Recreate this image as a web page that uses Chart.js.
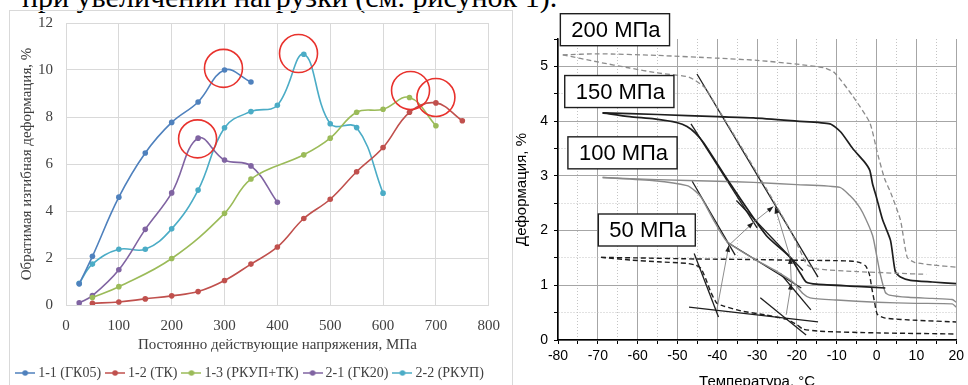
<!DOCTYPE html>
<html>
<head>
<meta charset="utf-8">
<script src="https://cdn.jsdelivr.net/npm/chart.js@4.4.0/dist/chart.umd.min.js"></script>
<style>
  html, body { margin: 0; padding: 0; background: #fff; width: 968px; height: 385px; overflow: hidden; }
  #caption { position: absolute; left: 22px; top: -18px; font-family: "Liberation Serif", serif; font-size: 30px; line-height: 30px; white-space: nowrap; color: #000; }
  #box1 { position: absolute; left: 9px; top: 10px; width: 504px; height: 400px; border: 1px solid #d9d9d9; box-sizing: border-box; }
  #c1 { position: absolute; left: 10px; top: 11px; }
  #c2 { position: absolute; left: 513px; top: 0; }
</style>
</head>
<body>
<div id="caption">при увеличении нагрузки (см. рисунок 1).</div>
<div id="box1"></div>
<canvas id="c1" width="502" height="390"></canvas>
<canvas id="c2" width="455" height="400"></canvas>
<script>
// left chart: recoverable bending strain vs constant stress
const gk05X = [25, 50, 100, 150, 200, 250, 300, 350];
const gk05Y = [0.9, 2.07, 4.59, 6.47, 7.77, 8.64, 10.0, 9.49];
const tkX = [50, 100, 150, 200, 250, 300, 350, 400, 450, 500, 550, 600, 650, 700, 750];
const tkY = [0.07, 0.13, 0.26, 0.39, 0.57, 1.04, 1.74, 2.47, 3.68, 4.5, 5.67, 6.7, 8.2, 8.6, 7.84];
const rkupTkX = [50, 100, 200, 300, 350, 450, 500, 550, 600, 650, 700];
const rkupTkY = [0.32, 0.78, 1.98, 3.9, 5.36, 6.39, 7.1, 8.2, 8.33, 8.83, 7.63];
const gk20X = [25, 50, 100, 150, 200, 250, 300, 350, 400];
const gk20Y = [0.09, 0.4, 1.5, 3.22, 4.77, 7.1, 6.17, 5.92, 4.37];
const rkupX = [25, 50, 100, 150, 200, 250, 300, 350, 400, 450, 500, 550, 600];
const rkupY = [0.92, 1.74, 2.37, 2.37, 3.24, 4.89, 7.54, 8.23, 8.5, 10.67, 7.71, 7.55, 4.76];
const seriesNames = ['1-1 (ГК05)', '1-2 (ТК)', '1-3 (РКУП+ТК)', '2-1 (ГК20)', '2-2 (РКУП)'];
const seriesColors = ['#4f81bd', '#c0504d', '#9bbb59', '#8064a2', '#4bacc6'];
const circleX = [298, 249, 440, 652, 700];
const circleY = [10.07, 7.07, 10.7, 9.13, 8.83];

// right chart: strain vs temperature under load
const load200Heating = [[-78.8, 5.21], [-70, 5.23], [-55, 5.2], [-40, 5.15], [-30, 5.11], [-20, 5.04], [-13, 4.97], [-10.5, 4.88], [-6, 4.46], [-1.7, 3.97], [0.2, 3.42], [2, 2.95], [3.5, 2.7], [6, 2.19], [7.7, 1.51], [9.5, 1.42], [14, 1.37], [20, 1.33]];
const load200Cooling = [[-78.8, 5.21], [-70, 5.08], [-62, 4.97], [-55, 4.88], [-47, 4.8], [-43, 4.6], [-40, 4.25], [-30, 3.05], [-22, 2.05], [-19, 1.6], [-17.5, 1.38], [-15, 1.3], [-5, 1.25], [5, 1.22], [12.5, 1.2]];
const load150Heating = [[-68.8, 4.15], [-55, 4.12], [-40, 4.08], [-30.9, 4.06], [-20, 4.0], [-11.7, 3.95], [-9, 3.8], [-6, 3.5], [-3, 3.25], [-1.7, 3.1], [-1, 2.85], [0, 2.6], [1.5, 2.2], [3.5, 1.82], [4.7, 1.25], [6, 1.15], [8.5, 1.09], [14, 1.06], [20, 1.03]];
const load150Cooling = [[-68.8, 4.15], [-62, 4.08], [-55.8, 4.04], [-50, 3.97], [-47.6, 3.9], [-45.5, 3.78], [-43.4, 3.6], [-36.7, 2.85], [-27.7, 1.91], [-21.7, 1.51], [-19, 1.2], [-17.7, 1.06], [-15, 1.02], [-5, 0.98], [2.2, 0.95]];
const load100Heating = [[-68.8, 2.97], [-55, 2.93], [-40, 2.9], [-30.9, 2.88], [-20, 2.84], [-9.2, 2.79], [-6.7, 2.64], [-5, 2.5], [-3.5, 2.33], [-1, 1.91], [0, 1.55], [1, 1.18], [2.2, 0.87], [3.2, 0.82], [8, 0.78], [14, 0.76], [19, 0.74], [20, 0.69]];
const load100Cooling = [[-68.8, 2.97], [-55.8, 2.91], [-47.6, 2.82], [-45.5, 2.72], [-44, 2.6], [-41, 2.2], [-37.6, 1.8], [-30, 1.45], [-25, 1.25], [-21, 1.06], [-18.5, 0.85], [-16.7, 0.77], [-10, 0.73], [0, 0.69], [10, 0.67], [19, 0.66], [20, 0.6]];
const load50Heating = [[-69.2, 1.51], [-60, 1.5], [-45, 1.48], [-30, 1.47], [-22.7, 1.46], [-10, 1.45], [-6, 1.44], [-4, 1.41], [-2.7, 1.35], [-1.8, 1.2], [-1.2, 0.95], [-0.5, 0.69], [0.2, 0.47], [2.2, 0.4], [10, 0.36], [20, 0.33]];
const load50Cooling = [[-69.2, 1.51], [-61.5, 1.46], [-55, 1.43], [-47.6, 1.4], [-45.5, 1.37], [-44.1, 1.31], [-42.8, 1.1], [-41.6, 0.87], [-40.1, 0.67], [-38.4, 0.62], [-34, 0.53], [-28, 0.46], [-22.7, 0.38], [-20, 0.28], [-18.5, 0.2], [-14.2, 0.16], [0, 0.13], [20, 0.11]];
const tangents = [
  [[-45.1, 4.86], [-14.7, 1.15]],
  [[-46.6, 3.95], [-30, 2.05]],
  [[-35.2, 2.55], [-18.5, 1.27]],
  [[-46.3, 2.9], [-35.5, 1.55]],
  [[-37.6, 1.79], [-18.9, 0.95]],
  [[-24.2, 1.22], [-16.5, 0.55]],
  [[-45.8, 1.58], [-39.7, 0.42]],
  [[-47.1, 0.6], [-14.7, 0.33]],
  [[-29.2, 0.77], [-17.7, 0.09]],
];
const arrowFrom = [[-40.1, 0.55], [-37.1, 1.73], [-30.9, 2.15], [-22.7, 0.46], [-21.4, 1.04], [-21.7, 1.51]];
const arrowTo = [[-37.1, 1.73], [-30.9, 2.15], [-25.9, 2.44], [-21.4, 1.04], [-21.7, 1.51], [-25.5, 2.43]];
const loadLabels = ['200 МПа', '150 МПа', '100 МПа', '50 МПа'];
const loadLabelT = [-65.7, -64.6, -63.8, -57.7];
const loadLabelD = [5.67, 4.54, 3.42, 2.01];

const serif = '"Liberation Serif", "Times New Roman", serif';
const sans = '"Liberation Sans", Arial, sans-serif';

function legendMark(color) {
  const c = document.createElement('canvas');
  c.width = 20;
  c.height = 8;
  const g = c.getContext('2d');
  g.strokeStyle = color;
  g.lineWidth = 1.5;
  g.beginPath();
  g.moveTo(0, 4);
  g.lineTo(20, 4);
  g.stroke();
  g.fillStyle = color;
  g.beginPath();
  g.arc(10, 4, 2.8, 0, Math.PI * 2);
  g.fill();
  return c;
}
const marks = seriesColors.map(legendMark);

const zip = (xs, ys) => xs.map((x, i) => ({ x: x, y: ys[i] }));
const leftSeries = [[gk05X, gk05Y], [tkX, tkY], [rkupTkX, rkupTkY], [gk20X, gk20Y], [rkupX, rkupY]];

const leftDatasets = leftSeries.map((s, i) => ({
  label: seriesNames[i],
  data: zip(s[0], s[1]),
  showLine: true,
  borderColor: seriesColors[i],
  backgroundColor: seriesColors[i],
  borderWidth: 1.6,
  pointRadius: 2.8,
  pointBorderWidth: 0,
  tension: 0.4,
}));
leftDatasets.push({
  label: 'circles',
  data: zip(circleX, circleY),
  showLine: false,
  pointRadius: 19,
  pointBackgroundColor: 'rgba(0,0,0,0)',
  pointBorderColor: '#e8322d',
  pointBorderWidth: 1.6,
  order: -1,
});

new Chart(document.getElementById('c1'), {
  type: 'scatter',
  data: { datasets: leftDatasets },
  options: {
    responsive: false,
    animation: false,
    events: [],
    layout: { autoPadding: false, padding: { left: 0, right: 19, top: 12, bottom: 11 } },
    scales: {
      x: {
        type: 'linear',
        min: 0,
        max: 800,
        afterFit: s => { s.height = 53; },
        ticks: { stepSize: 100, padding: 12, color: '#404040', font: { family: serif, size: 15 } },
        grid: { color: '#d9d9d9', drawTicks: false },
        border: { color: '#d9d9d9' },
        title: { display: true, text: 'Постоянно действующие напряжения, МПа', color: '#404040', font: { family: serif, size: 15 }, padding: { top: 0, bottom: 4 } },
      },
      y: {
        min: 0,
        max: 12,
        afterFit: s => { s.width = 56; s.paddingTop = 0; s.paddingBottom = 0; },
        ticks: { stepSize: 2, padding: 13, color: '#404040', font: { family: serif, size: 15 } },
        grid: { color: '#d9d9d9', drawTicks: false },
        border: { display: false },
        title: { display: true, text: 'Обратимая изгибная деформация, %', color: '#404040', font: { family: serif, size: 15 }, padding: { top: 8, bottom: 0 } },
      },
    },
    plugins: {
      tooltip: { enabled: false },
      legend: {
        position: 'bottom',
        labels: {
          usePointStyle: true,
          boxWidth: 12,
          pointStyleWidth: 12,
          padding: 8,
          color: '#404040',
          font: { family: serif, size: 14 },
          filter: item => item.datasetIndex < 5,
          generateLabels: chart => Chart.defaults.plugins.legend.labels.generateLabels(chart)
            .map(item => Object.assign(item, { pointStyle: marks[item.datasetIndex] || 'circle' })),
        },
      },
    },
  },
});

// right chart
const pts = a => a.map(p => ({ x: p[0], y: p[1] }));
function curve(data, color, width, dash, tension) {
  return { data: pts(data), showLine: true, borderColor: color, borderWidth: width, borderDash: dash, pointRadius: 0, tension: tension, fill: false };
}
const rightDatasets = [
  curve(load200Heating, '#8c8c8c', 1.3, [5, 3], 0.2),
  curve(load200Cooling, '#8c8c8c', 1.3, [5, 3], 0.2),
  curve(load150Heating, '#1e1e1e', 1.7, [], 0.2),
  curve(load150Cooling, '#1e1e1e', 1.7, [], 0.2),
  curve(load100Heating, '#8a8a8a', 1.4, [], 0.2),
  curve(load100Cooling, '#8a8a8a', 1.4, [], 0.2),
  curve(load50Heating, '#1e1e1e', 1.4, [5, 3], 0.2),
  curve(load50Cooling, '#1e1e1e', 1.4, [5, 3], 0.2),
].concat(tangents.map(t => curve(t, '#1e1e1e', 1.3, [], 0)));

const isWhole = (v, step) => Math.abs(v / step - Math.round(v / step)) < 1e-6;

const arrowPlugin = {
  id: 'arrows',
  afterDatasetsDraw(chart) {
    const { ctx, scales: { x, y } } = chart;
    ctx.save();
    arrowFrom.forEach((a, i) => {
      const b = arrowTo[i];
      const x0 = x.getPixelForValue(a[0]), y0 = y.getPixelForValue(a[1]);
      const x1 = x.getPixelForValue(b[0]), y1 = y.getPixelForValue(b[1]);
      ctx.strokeStyle = '#808080';
      ctx.lineWidth = 0.9;
      ctx.beginPath();
      ctx.moveTo(x0, y0);
      ctx.lineTo(x1, y1);
      ctx.stroke();
      const ang = Math.atan2(y1 - y0, x1 - x0);
      ctx.fillStyle = '#1e1e1e';
      ctx.beginPath();
      ctx.moveTo(x1, y1);
      ctx.lineTo(x1 - 7 * Math.cos(ang - 0.35), y1 - 7 * Math.sin(ang - 0.35));
      ctx.lineTo(x1 - 7 * Math.cos(ang + 0.35), y1 - 7 * Math.sin(ang + 0.35));
      ctx.closePath();
      ctx.fill();
    });
    ctx.restore();
  },
};

const labelPlugin = {
  id: 'loadLabels',
  afterDraw(chart) {
    const { ctx, scales: { x, y } } = chart;
    ctx.save();
    ctx.font = '22px ' + sans;
    ctx.textAlign = 'center';
    ctx.textBaseline = 'middle';
    loadLabels.forEach((txt, i) => {
      const cx = x.getPixelForValue(loadLabelT[i]);
      const cy = y.getPixelForValue(loadLabelD[i]);
      const w = ctx.measureText(txt).width + 20;
      const h = 32;
      ctx.fillStyle = '#fff';
      ctx.fillRect(cx - w / 2, cy - h / 2, w, h);
      ctx.strokeStyle = '#1e1e1e';
      ctx.lineWidth = 1.4;
      ctx.strokeRect(cx - w / 2, cy - h / 2, w, h);
      ctx.fillStyle = '#000';
      ctx.fillText(txt, cx + 1, cy + 1);
    });
    ctx.restore();
  },
};

new Chart(document.getElementById('c2'), {
  type: 'scatter',
  data: { datasets: rightDatasets },
  plugins: [arrowPlugin, labelPlugin],
  options: {
    responsive: false,
    animation: false,
    events: [],
    layout: { autoPadding: false, padding: { left: 0, right: 9, top: 39, bottom: 9 } },
    scales: {
      x: {
        type: 'linear',
        min: -80,
        max: 20,
        afterFit: s => { s.height = 51; },
        ticks: {
          stepSize: 5, autoSkip: false, maxRotation: 0, padding: 4, color: '#000',
          font: { family: sans, size: 14 },
          callback: v => (isWhole(v, 10) ? v : ''),
        },
        grid: {
          color: c => (c.tick && isWhole(c.tick.value, 10) ? '#a6a6a6' : '#c4c4c4'),
          tickColor: '#000',
          tickLength: 4,
        },
        border: { color: '#000', width: 1.5, dash: c => (c.tick && !isWhole(c.tick.value, 10) ? [1, 2] : []) },
        title: { display: true, text: 'Температура, °С', color: '#000', font: { family: sans, size: 15 }, padding: 0 },
      },
      y: {
        min: 0,
        max: 5.5,
        afterFit: s => { s.width = 45; },
        ticks: {
          stepSize: 0.5, autoSkip: false, padding: 6, color: '#000',
          font: { family: sans, size: 14 },
          callback: v => (isWhole(v, 1) ? v : ''),
        },
        grid: {
          color: c => (c.tick && c.tick.value > 5.4 ? 'rgba(0,0,0,0)' : (c.tick && isWhole(c.tick.value, 1) ? '#a6a6a6' : '#c4c4c4')),
          tickColor: '#000',
          tickLength: 4,
        },
        border: { color: '#000', width: 1.5, dash: c => (c.tick && !isWhole(c.tick.value, 1) ? [1, 2] : []) },
        title: { display: true, text: 'Деформация, %', color: '#000', font: { family: sans, size: 15 }, padding: 0 },
      },
    },
    plugins: {
      legend: { display: false },
      tooltip: { enabled: false },
    },
  },
});
</script>
</body>
</html>
